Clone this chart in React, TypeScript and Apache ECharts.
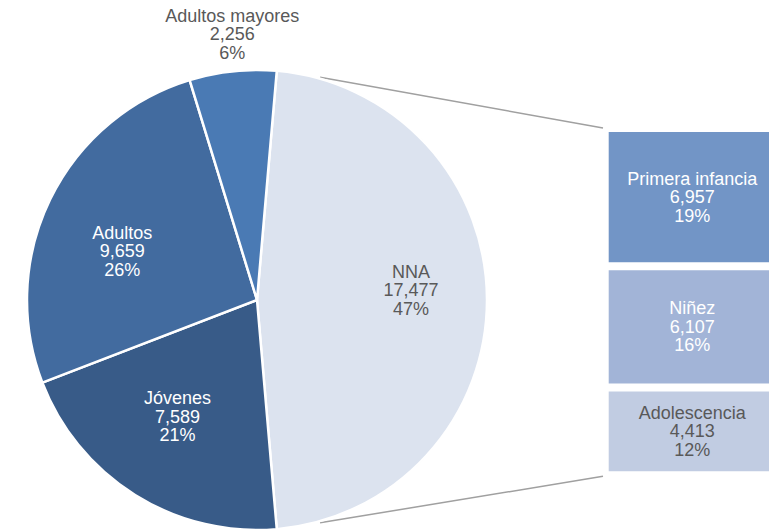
import React, { useEffect, useRef } from "react";
import * as echarts from "echarts";

// ---- data ----
const pieNames = ["NNA", "Jóvenes", "Adultos", "Adultos mayores"];
const pieValues = [17477, 7589, 9659, 2256];
const piePercents = [47, 21, 26, 6];

const barNames = ["Adolescencia", "Niñez", "Primera infancia"]; // bottom to top
const barValues = [4413, 6107, 6957];
const barPercents = [12, 16, 19];

// ---- styles / layout ----
const pieColors = ["#dce3ef", "#385b88", "#426b9f", "#4a7ab4"];
const pieTextColors = ["#595959", "#ffffff", "#ffffff", "#595959"];
const pieLabelShift: [number, number][] = [
  [36, -10],
  [-17, 16.5],
  [-28.6, 3],
  [-12.4, -148.6],
];
const barColors = ["#c1cce2", "#a2b4d7", "#7295c6"];
const barTextColors = ["#595959", "#ffffff", "#ffffff"];

const CX = 257;
const CY = 300;
const R = 230;
const GRID_LEFT = 604.7;
const GRID_TOP = 128;
const GRID_H = 347.3;
const FONT = "'Liberation Sans', Arial, Helvetica, sans-serif";

const fmt = (v: number) => v.toLocaleString("en-US");

export default function App() {
  const ref = useRef<HTMLDivElement>(null);
  useEffect(() => {
    if (!ref.current) return;
    const chart = echarts.init(ref.current, undefined, { renderer: "svg" });
    const total = pieValues.reduce((a, b) => a + b, 0);
    const nnaHalf = (pieValues[0] / total) * 180; // NNA centred at 3 o'clock
    const connAngle = (74.2 * Math.PI) / 180;
    const rout = R + 1.5;
    const lineEndX = GRID_LEFT - 1.7;
    const lineStyle = { stroke: "#a0a0a0", lineWidth: 1.5 };

    chart.setOption({
      animation: false,
      grid: {
        left: GRID_LEFT,
        top: GRID_TOP,
        width: 175,
        height: GRID_H,
        outerBoundsMode: "none",
        containLabel: false,
      },
      xAxis: { type: "category", data: ["NNA"], show: false },
      yAxis: { type: "value", min: 0, max: pieValues[0], show: false },
      graphic: [
        {
          type: "line",
          z: 0,
          shape: {
            x1: CX + rout * Math.cos(connAngle),
            y1: CY - rout * Math.sin(connAngle),
            x2: lineEndX,
            y2: GRID_TOP,
          },
          style: lineStyle,
        },
        {
          type: "line",
          z: 0,
          shape: {
            x1: CX + rout * Math.cos(connAngle),
            y1: CY + rout * Math.sin(connAngle),
            x2: lineEndX,
            y2: GRID_TOP + GRID_H + 1,
          },
          style: lineStyle,
        },
      ],
      series: [
        {
          type: "pie",
          z: 3,
          center: [CX, CY],
          radius: [0, R],
          startAngle: nnaHalf,
          clockwise: true,
          silent: true,
          avoidLabelOverlap: false,
          itemStyle: { borderColor: "#ffffff", borderWidth: 2.5 },
          labelLine: { show: false },
          label: {
            position: "inside",
            fontFamily: FONT,
            fontSize: 18,
            lineHeight: 18.5,
          },
          labelLayout: (p: any) => ({
            dx: pieLabelShift[p.dataIndex][0],
            dy: pieLabelShift[p.dataIndex][1],
          }),
          data: pieNames.map((n, i) => ({
            name: n,
            value: pieValues[i],
            itemStyle: { color: pieColors[i] },
            label: {
              color: pieTextColors[i],
              formatter: `${n}\n${fmt(pieValues[i])}\n${piePercents[i]}%`,
            },
          })),
        },
        ...barNames.map((n, i) => ({
          type: "bar",
          name: n,
          stack: "nna",
          barWidth: "100%",
          silent: true,
          itemStyle: { color: barColors[i], borderColor: "#ffffff", borderWidth: 4 },
          label: {
            show: true,
            position: "inside",
            color: barTextColors[i],
            fontFamily: FONT,
            fontSize: 18,
            lineHeight: 18.5,
            formatter: `${n}\n${fmt(barValues[i])}\n${barPercents[i]}%`,
          },
          data: [barValues[i]],
        })),
      ],
    });
    return () => chart.dispose();
  }, []);
  return (
    <div
      ref={ref}
      style={{ position: "fixed", left: 0, top: 0, width: 769, height: 529, background: "#fff" }}
    />
  );
}
